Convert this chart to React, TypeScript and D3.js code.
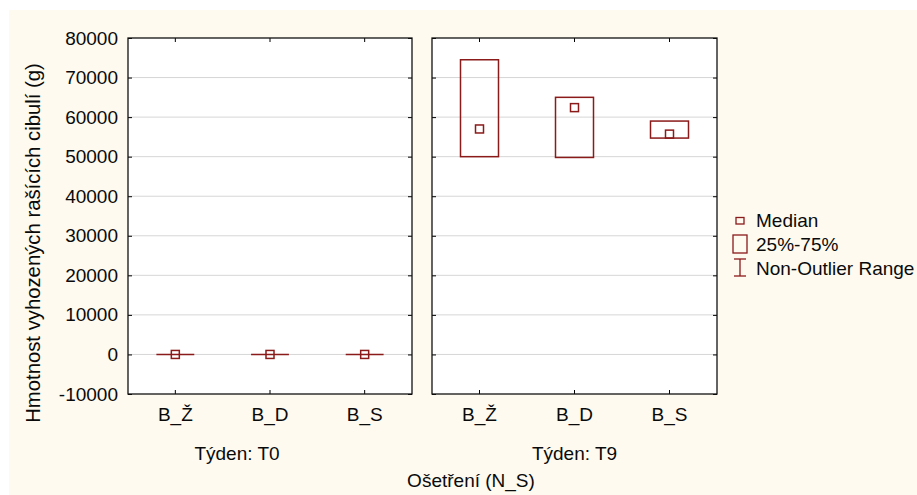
import React, { useEffect, useRef } from 'react';
import * as d3 from 'd3';

const categories = ['B_Ž', 'B_D', 'B_S'];
const weeks = ['T0', 'T9'];
const yTicks = [-10000, 0, 10000, 20000, 30000, 40000, 50000, 60000, 70000, 80000];

// per week, per category
const medians = [[0, 0, 0], [57000, 62400, 55700]];
const q1 = [[0, 0, 0], [50000, 49800, 54700]];
const q3 = [[0, 0, 0], [74500, 65000, 59000]];
const lowRange = [[0, 0, 0], [50000, 49800, 54700]];
const highRange = [[0, 0, 0], [74500, 65000, 59000]];

const yTitle = 'Hmotnost vyhozených rašících cibulí (g)';
const xTitle = 'Ošetření (N_S)';
const legendItems = ['Median', '25%-75%', 'Non-Outlier Range'];

export default function App() {
  const svgRef = useRef<SVGSVGElement | null>(null);

  useEffect(() => {
    document.body.style.margin = '0';
    if (!svgRef.current) return;
    const svg = d3.select(svgRef.current);
    svg.selectAll('*').remove();

    const width = 917;
    const height = 495;
    const font = 'Liberation Sans, Arial, sans-serif';
    const fs = 19;
    const ink = '#0a0a0a';
    const red = '#8b1a1a';

    svg.append('rect').attr('width', width).attr('height', height).attr('fill', '#ffffff');
    svg.append('rect').attr('x', 9).attr('y', 10).attr('width', width - 9).attr('height', height - 10).attr('fill', '#fefaf0');

    const top = 38, bottom = 394;
    const panels = [
      { x0: 128, x1: 412 },
      { x0: 432, x1: 717 },
    ];
    const y = d3.scaleLinear().domain([-10000, 80000]).range([bottom, top]);

    panels.forEach((p, wi) => {
      const g = svg.append('g');
      g.append('rect').attr('x', p.x0).attr('y', top).attr('width', p.x1 - p.x0).attr('height', bottom - top).attr('fill', '#ffffff');

      // gridlines
      g.selectAll('line.grid')
        .data(yTicks.filter(t => t > -10000 && t < 80000))
        .join('line')
        .attr('x1', p.x0).attr('x2', p.x1)
        .attr('y1', d => y(d)).attr('y2', d => y(d))
        .attr('stroke', '#d6d6d6').attr('stroke-width', 1);

      const x = d3.scaleBand().domain(categories).range([p.x0, p.x1]);

      // inward ticks
      const tl = 4;
      const leftAx = g.append('g').attr('transform', `translate(${p.x0},0)`)
        .call(d3.axisRight(y).tickValues(yTicks).tickSize(tl).tickFormat(() => ''));
      const rightAx = g.append('g').attr('transform', `translate(${p.x1},0)`)
        .call(d3.axisLeft(y).tickValues(yTicks).tickSize(tl).tickFormat(() => ''));
      const topAx = g.append('g').attr('transform', `translate(0,${top})`)
        .call(d3.axisBottom(x).tickSize(tl).tickFormat(() => ''));
      const botAx = g.append('g').attr('transform', `translate(0,${bottom})`)
        .call(d3.axisTop(x).tickSize(tl).tickFormat(() => ''));
      [leftAx, rightAx, topAx, botAx].forEach(a => {
        a.select('.domain').remove();
        a.selectAll('line').attr('stroke', '#000');
      });

      // frame
      g.append('rect').attr('x', p.x0).attr('y', top).attr('width', p.x1 - p.x0).attr('height', bottom - top)
        .attr('fill', 'none').attr('stroke', '#111').attr('stroke-width', 1.3);

      // boxes
      const bw = x.bandwidth() * 0.4;
      categories.forEach((c, ci) => {
        const cx = (x(c) ?? 0) + x.bandwidth() / 2;
        const yTop = y(q3[wi][ci]);
        const yBot = y(q1[wi][ci]);
        // whiskers only outside the box
        if (y(highRange[wi][ci]) < yTop) {
          g.append('line').attr('x1', cx).attr('x2', cx).attr('y1', y(highRange[wi][ci])).attr('y2', yTop)
            .attr('stroke', red).attr('stroke-width', 1.3);
        }
        if (y(lowRange[wi][ci]) > yBot) {
          g.append('line').attr('x1', cx).attr('x2', cx).attr('y1', yBot).attr('y2', y(lowRange[wi][ci]))
            .attr('stroke', red).attr('stroke-width', 1.3);
        }
        if (yBot - yTop < 0.5) {
          g.append('line').attr('x1', cx - bw / 2).attr('x2', cx + bw / 2)
            .attr('y1', yTop).attr('y2', yTop).attr('stroke', red).attr('stroke-width', 1.5);
        } else {
          g.append('rect').attr('x', cx - bw / 2).attr('y', yTop).attr('width', bw).attr('height', yBot - yTop)
            .attr('fill', 'none').attr('stroke', red).attr('stroke-width', 1.5);
        }
        const ms = 8;
        g.append('rect').attr('x', cx - ms / 2).attr('y', y(medians[wi][ci]) - ms / 2).attr('width', ms).attr('height', ms)
          .attr('fill', 'none').attr('stroke', red).attr('stroke-width', 1.5);

        svg.append('text').attr('x', cx).attr('y', 421)
          .attr('text-anchor', 'middle').attr('font-family', font).attr('font-size', fs).attr('fill', ink)
          .text(c);
      });

      const wx = wi === 0 ? 237 : (p.x0 + p.x1) / 2;
      svg.append('text').attr('x', wx).attr('y', 460)
        .attr('text-anchor', 'middle').attr('font-family', font).attr('font-size', fs).attr('fill', ink)
        .text(`Týden: ${weeks[wi]}`);
    });

    // y tick labels
    const yLab = svg.append('g').attr('transform', 'translate(118,0)')
      .call(d3.axisLeft(y).tickValues(yTicks).tickSize(0).tickPadding(0).tickFormat(d => String(d)));
    yLab.select('.domain').remove();
    yLab.selectAll('text').attr('font-family', font).attr('font-size', fs).attr('fill', ink);

    svg.append('text')
      .attr('transform', `translate(40,243) rotate(-90)`)
      .attr('text-anchor', 'middle').attr('font-family', font).attr('font-size', 20.3).attr('fill', ink)
      .text(yTitle);

    svg.append('text').attr('x', 471).attr('y', 487)
      .attr('text-anchor', 'middle').attr('font-family', font).attr('font-size', fs).attr('fill', ink)
      .text(xTitle);

    // legend
    const lg = svg.append('g');
    const lx = 740;
    lg.append('rect').attr('x', lx - 4).attr('y', 217.5).attr('width', 8).attr('height', 6.5)
      .attr('fill', 'none').attr('stroke', red).attr('stroke-width', 1.3);
    lg.append('rect').attr('x', lx - 7).attr('y', 235).attr('width', 14).attr('height', 18)
      .attr('fill', 'none').attr('stroke', red).attr('stroke-width', 1.3);
    lg.append('line').attr('x1', lx).attr('x2', lx).attr('y1', 259).attr('y2', 276).attr('stroke', red).attr('stroke-width', 1.3);
    lg.append('line').attr('x1', lx - 6).attr('x2', lx + 6).attr('y1', 259).attr('y2', 259).attr('stroke', red).attr('stroke-width', 1.3);
    lg.append('line').attr('x1', lx - 6).attr('x2', lx + 6).attr('y1', 276).attr('y2', 276).attr('stroke', red).attr('stroke-width', 1.3);
    lg.selectAll('text.leg').data(legendItems).join('text')
      .attr('x', 756).attr('y', (d, i) => 227 + i * 24)
      .attr('font-family', font).attr('font-size', fs).attr('fill', ink)
      .text(d => d);
  }, []);

  return <svg ref={svgRef} width={917} height={495} style={{ display: 'block' }}></svg>;
}
